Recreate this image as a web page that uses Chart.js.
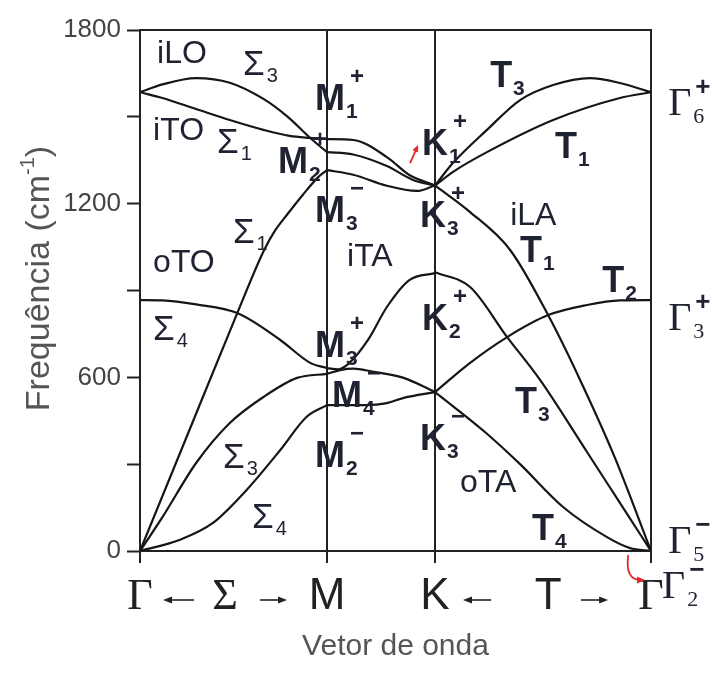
<!DOCTYPE html>
<html>
<head>
<meta charset="utf-8">
<script src="https://cdn.jsdelivr.net/npm/chart.js@4.4.1/dist/chart.umd.min.js"></script>
<style>
  html, body { margin: 0; padding: 0; background: #fff; }
  #wrap { width: 712px; height: 679px; position: relative; }
</style>
</head>
<body>
<div id="wrap"><canvas id="c" width="712" height="679"></canvas></div>
<script>
// High-symmetry points along the path Γ–M–K–Γ (path length in units of |ΓM|)
const kPoints = [0, 1, 1.5774, 2.7321];
const yTickValues = [0, 300, 600, 900, 1200, 1500, 1800];
const yTickLabels = [0, 600, 1200, 1800];

// Branches on Γ → M   [k, frequency (cm-1)]
const gm_iLO = [[0,1585],[0.12,1612],[0.30,1634],[0.48,1618],[0.66,1562],[0.79,1500],[0.91,1427],[1,1378]];
const gm_iTO = [[0,1585],[0.12,1565],[0.30,1527],[0.48,1489],[0.66,1455],[0.80,1434],[0.91,1427],[1,1423]];
const gm_oTO = [[0,867],[0.12,866],[0.30,852],[0.52,822],[0.75,729],[0.91,650],[1,632]];
const gm_iLA = [[0,0],[0.26,411],[0.52,822],[0.66,1035],[0.72,1105],[0.79,1165],[0.87,1230],[0.95,1290],[1,1316]];
const gm_iTA = [[0,0],[0.12,117],[0.30,304],[0.48,442],[0.66,532],[0.84,598],[1,612]];
const gm_oTA = [[0,0],[0.21,38],[0.39,97],[0.57,211],[0.75,349],[0.89,463],[1,504]];

// Branches on M → K
const mk_1 = [[1,1423],[1.14,1420],[1.32,1361],[1.44,1299],[1.5774,1263]];
const mk_2 = [[1,1378],[1.14,1370],[1.32,1330],[1.46,1282],[1.5774,1263]];
const mk_3 = [[1,1316],[1.14,1300],[1.32,1262],[1.48,1244],[1.5774,1263]];
const mk_oTO = [[1,632],[1.06,628],[1.12,650],[1.22,730],[1.32,843],[1.44,936],[1.5774,960]];
const mk_iTA = [[1,612],[1.07,625],[1.14,630],[1.24,620],[1.41,598],[1.5774,549]];
const mk_oTA = [[1,504],[1.21,504],[1.32,511],[1.41,529],[1.5774,549]];

// Branches on K → Γ
const kg_T3 = [[1.5774,1263],[1.674,1341],[1.855,1455],[2.032,1558],[2.209,1610],[2.406,1634],[2.566,1617],[2.7321,1585]];
const kg_T1a = [[1.5774,1263],[1.674,1310],[1.855,1378],[2.209,1489],[2.566,1565],[2.7321,1585]];
const kg_T1b = [[1.5774,1263],[1.765,1171],[1.979,1040],[2.182,815],[2.353,591],[2.54,321],[2.7321,0]];
const kg_T3b = [[1.5774,963],[1.765,912],[1.963,739],[2.139,591],[2.39,342],[2.566,166],[2.7321,0]];
const kg_T2 = [[1.5774,549],[1.765,650],[1.963,739],[2.182,815],[2.39,850],[2.566,866],[2.7321,867]];
const kg_T4 = [[1.5774,549],[1.674,500],[1.855,405],[2.032,300],[2.262,152],[2.497,48],[2.62,10],[2.7321,0]];

const branches = [gm_iLO, gm_iTO, gm_oTO, gm_iLA, gm_iTA, gm_oTA,
                  mk_1, mk_2, mk_3, mk_oTO, mk_iTA, mk_oTA,
                  kg_T3, kg_T1a, kg_T1b, kg_T3b, kg_T2, kg_T4];

// Mode names and symmetry labels, anchored in (k, frequency)
const modeNames = [
  ['iLO', 0.091, 1686], ['iTO', 0.070, 1420], ['oTO', 0.070, 964],
  ['iTA', 1.107, 985], ['iLA', 1.979, 1126], ['oTA', 1.711, 204]
];
const symLabels = [
  {kind:'sigma', main:'Σ', sub:'3', k:0.551, f:1645},
  {kind:'sigma', main:'Σ', sub:'1', k:0.412, f:1375},
  {kind:'sigma', main:'Σ', sub:'1', k:0.497, f:1064},
  {kind:'sigma', main:'Σ', sub:'4', k:0.070, f:729},
  {kind:'sigma', main:'Σ', sub:'3', k:0.444, f:287},
  {kind:'sigma', main:'Σ', sub:'4', k:0.599, f:79},
  {kind:'irrep', main:'M', sub:'1', sup:'+', k:0.936, f:1524},
  {kind:'irrep', main:'M', sub:'2', sup:'+', k:0.738, f:1306},
  {kind:'irrep', main:'M', sub:'3', sup:'−', k:0.936, f:1137},
  {kind:'irrep', main:'M', sub:'3', sup:'+', k:0.936, f:670},
  {kind:'irrep', main:'M', sub:'4', sup:'−', k:1.027, f:497},
  {kind:'irrep', main:'M', sub:'2', sup:'−', k:0.936, f:290},
  {kind:'irrep', main:'K', sub:'1', sup:'+', k:1.508, f:1368},
  {kind:'irrep', main:'K', sub:'3', sup:'+', k:1.497, f:1119},
  {kind:'irrep', main:'K', sub:'2', sup:'+', k:1.508, f:763},
  {kind:'irrep', main:'K', sub:'3', sup:'−', k:1.497, f:349},
  {kind:'irrep', main:'T', sub:'3', k:1.872, f:1603},
  {kind:'irrep', main:'T', sub:'1', k:2.219, f:1358},
  {kind:'irrep', main:'T', sub:'1', k:2.032, f:998},
  {kind:'irrep', main:'T', sub:'2', k:2.471, f:895},
  {kind:'irrep', main:'T', sub:'3', k:2.005, f:477},
  {kind:'irrep', main:'T', sub:'4', k:2.096, f:38},
  {kind:'gamma', main:'Γ', sub:'6', sup:'+', k:2.824, f:1506},
  {kind:'gamma', main:'Γ', sub:'3', sup:'+', k:2.824, f:764},
  {kind:'gamma', main:'Γ', sub:'5', sup:'−', k:2.824, f:-7},
  {kind:'gamma', main:'Γ', sub:'2', sup:'−', k:2.791, f:-162}
];

// Path labels under the axis: [text, k, family]
const pathLabels = [['Γ', 0, 'serif'], ['Σ', 0.455, 'serif'], ['M', 1, 'sans'],
                    ['K', 1.5774, 'sans'], ['T', 2.182, 'sans'], ['Γ', 2.7321, 'serif']];
const pathArrows = [[0.289, 0.123], [0.642, 0.786], [1.877, 1.727], [2.358, 2.503]];

const SANS = '"Liberation Sans", Arial, Helvetica, sans-serif';
const SERIF = '"Liberation Serif", "Times New Roman", serif';
const INK = '#1f2230';

const symStyles = {
  sigma: {main:'35px ' + SANS, sub:'20px ' + SANS, subDx:2, subDy:7},
  irrep: {main:'bold 36px ' + SANS, sub:'bold 21px ' + SANS, sup:'bold 24px ' + SANS,
          subDx:1, subDy:8, supDx:5, supDy:-26},
  gamma: {main:'40px ' + SERIF, sub:'22px ' + SERIF, sup:'bold 26px ' + SANS,
          subDx:2, subDy:8, supDx:4, supDy:-20}
};

function drawSymbol(ctx, x, y, s) {
  const st = symStyles[s.kind];
  ctx.font = st.main;
  ctx.fillText(s.main, x, y);
  const w = ctx.measureText(s.main).width;
  if (s.sub) { ctx.font = st.sub; ctx.fillText(s.sub, x + w + st.subDx, y + st.subDy); }
  if (s.sup) { ctx.font = st.sup; ctx.fillText(s.sup, x + w + st.supDx, y + st.supDy); }
}

function arrowHead(ctx, x, y, ang, len, half) {
  ctx.beginPath();
  ctx.moveTo(x, y);
  ctx.lineTo(x - len * Math.cos(ang) + half * Math.sin(ang), y - len * Math.sin(ang) - half * Math.cos(ang));
  ctx.lineTo(x - len * Math.cos(ang) - half * Math.sin(ang), y - len * Math.sin(ang) + half * Math.cos(ang));
  ctx.closePath();
  ctx.fill();
}

const decorations = {
  id: 'decorations',
  afterDraw(chart) {
    const {ctx, chartArea: a, scales: {x, y}} = chart;
    ctx.save();
    // closing frame on top
    ctx.strokeStyle = '#222';
    ctx.lineWidth = 2;
    ctx.beginPath();
    ctx.moveTo(a.left - 1, a.top);
    ctx.lineTo(a.right + 1, a.top);
    ctx.stroke();

    ctx.fillStyle = INK;
    ctx.textAlign = 'left';
    ctx.textBaseline = 'alphabetic';
    ctx.font = '32px ' + SANS;
    modeNames.forEach(([t, k, f]) => ctx.fillText(t, x.getPixelForValue(k), y.getPixelForValue(f)));
    symLabels.forEach(s => drawSymbol(ctx, x.getPixelForValue(s.k), y.getPixelForValue(s.f), s));

    // path labels under the axis
    const base = a.bottom + 58;
    ctx.fillStyle = '#222';
    ctx.textAlign = 'center';
    pathLabels.forEach(([t, k, fam]) => {
      ctx.font = '44px ' + (fam === 'serif' ? SERIF : SANS);
      ctx.fillText(t, x.getPixelForValue(k), base);
    });
    ctx.strokeStyle = '#222';
    ctx.lineWidth = 1.6;
    pathArrows.forEach(([k0, k1]) => {
      const x0 = x.getPixelForValue(k0), x1 = x.getPixelForValue(k1), yy = base - 9;
      const dir = Math.sign(x1 - x0);
      ctx.beginPath(); ctx.moveTo(x0, yy); ctx.lineTo(x1 - dir * 6, yy); ctx.stroke();
      arrowHead(ctx, x1, yy, dir > 0 ? 0 : Math.PI, 9, 3.5);
    });

    // axis titles
    ctx.fillStyle = '#555';
    ctx.textAlign = 'center';
    ctx.font = '30px ' + SANS;
    ctx.fillText('Vetor de onda', (a.left + a.right) / 2, a.bottom + 104);

    ctx.save();
    ctx.translate(40, (a.top + a.bottom) / 2 - 12);
    ctx.rotate(-Math.PI / 2);
    ctx.textAlign = 'left';
    ctx.textBaseline = 'middle';
    const p1 = 'Frequência (cm', p2 = '-1', p3 = ')';
    ctx.font = '34px ' + SANS; const w1 = ctx.measureText(p1).width, w3 = ctx.measureText(p3).width;
    ctx.font = '20px ' + SANS; const w2 = ctx.measureText(p2).width;
    let sx = -(w1 + w2 + w3) / 2;
    ctx.font = '34px ' + SANS; ctx.fillText(p1, sx, 0); sx += w1;
    ctx.font = '20px ' + SANS; ctx.fillText(p2, sx, -12); sx += w2;
    ctx.font = '34px ' + SANS; ctx.fillText(p3, sx, 0);
    ctx.restore();

    // red pointers
    ctx.strokeStyle = '#e8262a';
    ctx.fillStyle = '#e8262a';
    ctx.lineWidth = 1.8;
    let ax0 = x.getPixelForValue(1.444), ay0 = y.getPixelForValue(1340);
    let ax1 = x.getPixelForValue(1.487), ay1 = y.getPixelForValue(1403);
    let ang = Math.atan2(ay1 - ay0, ax1 - ax0);
    ctx.beginPath(); ctx.moveTo(ax0, ay0); ctx.lineTo(ax1 - 4 * Math.cos(ang), ay1 - 4 * Math.sin(ang)); ctx.stroke();
    arrowHead(ctx, ax1, ay1, ang, 7, 3);

    const c0x = x.getPixelForValue(2.61), c0y = y.getPixelForValue(-14);
    const ccx = x.getPixelForValue(2.594), ccy = y.getPixelForValue(-100);
    const c1x = x.getPixelForValue(2.70), c1y = y.getPixelForValue(-100);
    ctx.beginPath(); ctx.moveTo(c0x, c0y); ctx.quadraticCurveTo(ccx, ccy, c1x - 5, c1y); ctx.stroke();
    arrowHead(ctx, c1x, c1y, Math.atan2(c1y - ccy, c1x - ccx), 8, 3.5);
    ctx.restore();
  }
};

const datasets = branches.map(b => ({
  data: b.map(([k, f]) => ({x: k, y: f})),
  borderColor: '#161616',
  borderWidth: 2.2,
  pointRadius: 0,
  fill: false,
  cubicInterpolationMode: 'monotone'
}));

new Chart(document.getElementById('c').getContext('2d'), {
  type: 'line',
  data: {datasets},
  options: {
    responsive: false,
    devicePixelRatio: 1,
    animation: false,
    layout: {padding: {top: 30, right: 61, left: 0, bottom: 0}},
    plugins: {legend: {display: false}, tooltip: {enabled: false}},
    scales: {
      x: {
        type: 'linear', min: kPoints[0], max: kPoints[3],
        afterBuildTicks: s => { s.ticks = kPoints.map(v => ({value: v})); },
        ticks: {display: false},
        grid: {color: '#222', lineWidth: 2, drawTicks: true, tickLength: 12, tickColor: '#222', tickWidth: 2},
        border: {display: true, color: '#222', width: 2},
        afterFit: s => { s.height = 128; }
      },
      y: {
        min: 0, max: 1800,
        afterBuildTicks: s => { s.ticks = yTickValues.map(v => ({value: v})); },
        ticks: {
          callback: v => yTickLabels.includes(v) ? String(v) : '',
          font: {size: 26, family: SANS}, color: '#444', padding: 6
        },
        grid: {drawOnChartArea: false, drawTicks: true, tickLength: 13, tickColor: '#222', tickWidth: 2},
        border: {display: true, color: '#222', width: 2},
        afterFit: s => { s.width = 140; }
      }
    }
  },
  plugins: [decorations]
});
</script>
</body>
</html>
